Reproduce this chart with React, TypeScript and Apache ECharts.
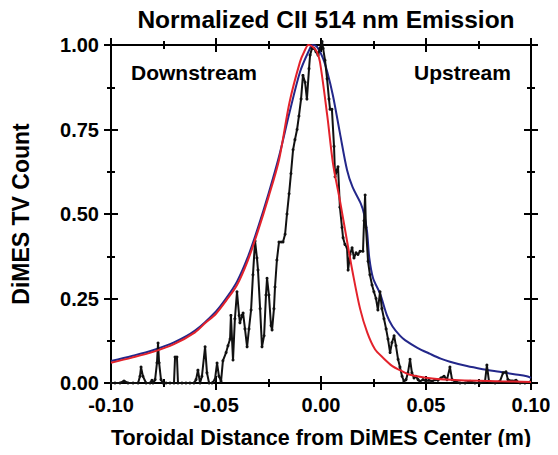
import React, { useEffect, useRef } from "react";
import * as echarts from "echarts";

const titleText = "Normalized CII 514 nm Emission";
const xName = "Toroidal Distance from DiMES Center (m)";
const yName = "DiMES TV Count";
const leftNote = "Downstream";
const rightNote = "Upstream";

// measured (black) profile
const measX = [
  -0.1, -0.0981, -0.0957, -0.0938, -0.0919, -0.0895, -0.0871, -0.0862, -0.0857, -0.0848,
  -0.0833, -0.0814, -0.0805, -0.08, -0.079, -0.0781, -0.0776, -0.0771, -0.0762, -0.0752,
  -0.0738, -0.0719, -0.07, -0.0695, -0.0686, -0.0681, -0.0662, -0.0643, -0.0624, -0.0605,
  -0.0595, -0.0586, -0.0576, -0.0567, -0.0552, -0.0543, -0.0533, -0.0519, -0.0505, -0.0495,
  -0.0486, -0.0476, -0.0467, -0.0452, -0.0443, -0.0433, -0.0429, -0.0419, -0.041, -0.04,
  -0.039, -0.0386, -0.0376, -0.0371, -0.0362, -0.0352, -0.0343, -0.0333, -0.0324, -0.0314,
  -0.0305, -0.03, -0.029, -0.0281, -0.0271, -0.0262, -0.0257, -0.0248, -0.0238, -0.0233,
  -0.0224, -0.0219, -0.021, -0.02, -0.019, -0.0181, -0.0171, -0.0162, -0.0152, -0.0143,
  -0.0133, -0.0124, -0.0114, -0.0105, -0.0095, -0.0086, -0.0076, -0.0067, -0.0057, -0.0052,
  -0.0043, -0.0033, -0.0024, -0.0014, -0.0005, 0.0005, 0.001, 0.0019, 0.0029, 0.0038,
  0.0043, 0.0052, 0.0062, 0.0067, 0.0076, 0.0081, 0.009, 0.01, 0.0105, 0.0114,
  0.0124, 0.0129, 0.0138, 0.0148, 0.0157, 0.0167, 0.0176, 0.0186, 0.02, 0.0205,
  0.021, 0.0214, 0.0224, 0.0233, 0.0243, 0.0252, 0.0262, 0.0271, 0.0281, 0.029,
  0.03, 0.031, 0.0319, 0.0329, 0.0338, 0.0348, 0.0357, 0.0367, 0.0376, 0.0386,
  0.0395, 0.0405, 0.0414, 0.0424, 0.0433, 0.0443, 0.0452, 0.0462, 0.0471, 0.0486,
  0.05, 0.0514, 0.0529, 0.0543, 0.0557, 0.0571, 0.0586, 0.06, 0.0614, 0.0624,
  0.0638, 0.0662, 0.0686, 0.071, 0.0733, 0.0757, 0.0781, 0.079, 0.08, 0.0829,
  0.0852, 0.0867, 0.0881, 0.089, 0.091, 0.0929, 0.0948, 0.0971, 0.0995,
];
const measY = [
  0, 0, 0, 0.006, 0, 0, 0, 0.02, 0.047, 0.02,
  0, 0, 0.008, 0, 0.01, 0.06, 0.118, 0.06, 0.01, 0,
  0, 0, 0, 0.077, 0.077, 0, 0, 0, 0, 0,
  0.01, 0.038, 0, 0.02, 0.107, 0.03, 0, 0, 0.01, 0.059,
  0.02, 0.005, 0.066, 0.09, 0.11, 0.13, 0.2, 0.068, 0.19, 0.27,
  0.2, 0.178, 0.2, 0.207, 0.16, 0.107, 0.16, 0.216, 0.32, 0.42,
  0.37, 0.334, 0.22, 0.107, 0.14, 0.26, 0.31, 0.26, 0.17, 0.157,
  0.22, 0.284, 0.364, 0.417, 0.417, 0.417, 0.44, 0.5, 0.56, 0.62,
  0.69, 0.72, 0.75, 0.79, 0.84, 0.91, 0.89, 0.84, 0.93, 0.97,
  0.99, 0.99, 0.98, 0.97, 0.99, 1.01, 0.99, 0.955, 0.9, 0.84,
  0.81, 0.81, 0.7, 0.61, 0.63, 0.64, 0.52, 0.46, 0.43, 0.41,
  0.4, 0.334, 0.38, 0.4, 0.37, 0.385, 0.38, 0.39, 0.39, 0.48,
  0.556, 0.46, 0.36, 0.32, 0.29, 0.27, 0.25, 0.216, 0.27, 0.22,
  0.19, 0.16, 0.13, 0.09, 0.12, 0.14, 0.11, 0.07, 0.047, 0.02,
  0.005, 0.01, 0.03, 0.07, 0.03, 0.015, 0.02, 0.01, 0.005, 0.01,
  0.006, 0.008, 0.005, 0.01, 0.008, 0.015, 0.02, 0.01, 0.047, 0.01,
  0.005, 0, 0, 0.005, 0, 0, 0.005, 0.053, 0.005, 0,
  0.005, 0.03, 0.033, 0.01, 0.006, 0.008, 0, 0, 0.003,
];

// model (blue) profile
const blueX = [
  -0.1, -0.09, -0.08, -0.07, -0.06, -0.05, -0.045, -0.04, -0.035, -0.03,
  -0.025, -0.02, -0.015, -0.01, -0.006, -0.004, -0.002, 0.001, 0.003, 0.0057,
  0.009, 0.0124, 0.015, 0.019, 0.0205, 0.0219, 0.023, 0.0248, 0.0281, 0.0314,
  0.034, 0.0376, 0.04, 0.0457, 0.052, 0.057, 0.0614, 0.0695, 0.077, 0.085,
  0.092, 0.098, 0.1,
];
const blueY = [
  0.065, 0.08, 0.097, 0.12, 0.155, 0.212, 0.252, 0.3, 0.37, 0.46,
  0.56, 0.67, 0.8, 0.92, 0.98, 1.0, 0.995, 0.96, 0.92, 0.85,
  0.74, 0.63, 0.58, 0.53, 0.5, 0.45, 0.37, 0.31, 0.265, 0.2,
  0.168, 0.14, 0.127, 0.105, 0.086, 0.072, 0.063, 0.05, 0.041, 0.033,
  0.026, 0.02, 0.015,
];

// model (red) profile
const redX = [
  -0.1, -0.09, -0.08, -0.07, -0.06, -0.055, -0.05, -0.045, -0.04, -0.035,
  -0.03, -0.025, -0.02, -0.015, -0.01, -0.008, -0.006, -0.004, -0.002, -0.0005,
  0.003, 0.0057, 0.009, 0.0124, 0.015, 0.0186, 0.022, 0.0257, 0.0295, 0.034,
  0.0376, 0.042, 0.053, 0.066, 0.085, 0.1,
];
const redY = [
  0.06, 0.075, 0.092, 0.115, 0.15, 0.178, 0.205, 0.245, 0.29, 0.36,
  0.45, 0.55, 0.66, 0.83, 0.95, 0.98, 1.0, 0.995, 0.98, 0.95,
  0.79, 0.65, 0.54, 0.42, 0.33, 0.22, 0.15, 0.1, 0.075, 0.05,
  0.038, 0.025, 0.013, 0.008, 0.005, 0.003,
];

const FONT = "'Liberation Sans', Arial, Helvetica, sans-serif";

const pairs = (xs: number[], ys: number[]) => xs.map((x, i) => [x, ys[i]]);

const axisCommon = (inside: boolean) => ({
  axisLine: { show: true, onZero: false, lineStyle: { color: "#000", width: 2 } },
  axisTick: { show: true, inside, length: 7, lineStyle: { color: "#000", width: 2 } },
  minorTick: { show: true, splitNumber: 2, length: 4, lineStyle: { color: "#000", width: 2 } },
  splitLine: { show: false },
  minorSplitLine: { show: false },
});

export default function App() {
  const ref = useRef<HTMLDivElement>(null);
  useEffect(() => {
    if (!ref.current) return;
    const chart = echarts.init(ref.current, null, { renderer: "svg" });
    const xBase = { type: "value" as const, min: -0.1, max: 0.1, interval: 0.05 };
    const yBase = { type: "value" as const, min: 0, max: 1, interval: 0.25 };
    const labelStyle = {
      fontFamily: FONT,
      fontWeight: "bold" as const,
      fontSize: 20,
      color: "#000",
    };
    chart.setOption({
      animation: false,
      backgroundColor: "#fff",
      title: {
        text: titleText,
        left: 321,
        textAlign: "center",
        top: 2,
        textStyle: { fontFamily: FONT, fontWeight: "bold", fontSize: 24.5, color: "#000" },
      },
      grid: { left: 111, right: 27, top: 45, bottom: 72, outerBoundsMode: "none" },
      xAxis: [
        {
          ...xBase,
          position: "bottom",
          ...axisCommon(false),
          axisLabel: { ...labelStyle, margin: 12, formatter: (v: number) => v.toFixed(2) },
          name: xName,
          nameLocation: "middle",
          nameGap: 44,
          nameTextStyle: { fontFamily: FONT, fontWeight: "bold", fontSize: 21.5, color: "#000" },
        },
        { ...xBase, position: "bottom", ...axisCommon(true), axisLabel: { show: false } },
        { ...xBase, position: "top", ...axisCommon(false), axisLabel: { show: false } },
        { ...xBase, position: "top", ...axisCommon(true), axisLabel: { show: false } },
      ],
      yAxis: [
        {
          ...yBase,
          position: "left",
          ...axisCommon(false),
          axisLabel: { ...labelStyle, margin: 12, formatter: (v: number) => v.toFixed(2) },
          name: yName,
          nameLocation: "middle",
          nameGap: 79,
          nameTextStyle: { fontFamily: FONT, fontWeight: "bold", fontSize: 23, color: "#000" },
        },
        { ...yBase, position: "left", ...axisCommon(true), axisLabel: { show: false } },
        { ...yBase, position: "right", ...axisCommon(false), axisLabel: { show: false } },
        { ...yBase, position: "right", ...axisCommon(true), axisLabel: { show: false } },
      ],
      graphic: [
        {
          type: "text",
          left: 131,
          top: 62,
          style: { text: leftNote, fontFamily: FONT, fontWeight: "bold", fontSize: 21, fill: "#000" },
        },
        {
          type: "text",
          left: 414,
          top: 62,
          style: { text: rightNote, fontFamily: FONT, fontWeight: "bold", fontSize: 21, fill: "#000" },
        },
      ],
      series: [
        {
          name: "Blue",
          type: "line",
          data: pairs(blueX, blueY),
          smooth: 0.3,
          showSymbol: false,
          lineStyle: { color: "#23278a", width: 2 },
          itemStyle: { color: "#23278a" },
          z: 2,
        },
        {
          name: "Measured",
          type: "line",
          data: pairs(measX, measY),
          symbol: "circle",
          symbolSize: 3,
          showSymbol: true,
          clip: false,
          lineStyle: { color: "#111", width: 2 },
          itemStyle: { color: "#111" },
          z: 3,
        },
        {
          name: "Red",
          type: "line",
          data: pairs(redX, redY),
          smooth: 0.3,
          showSymbol: false,
          lineStyle: { color: "#e3222b", width: 2 },
          itemStyle: { color: "#e3222b" },
          z: 4,
        },
      ],
    });
    return () => chart.dispose();
  }, []);
  return <div ref={ref} style={{ width: 558, height: 455, margin: -8 }} />;
}
